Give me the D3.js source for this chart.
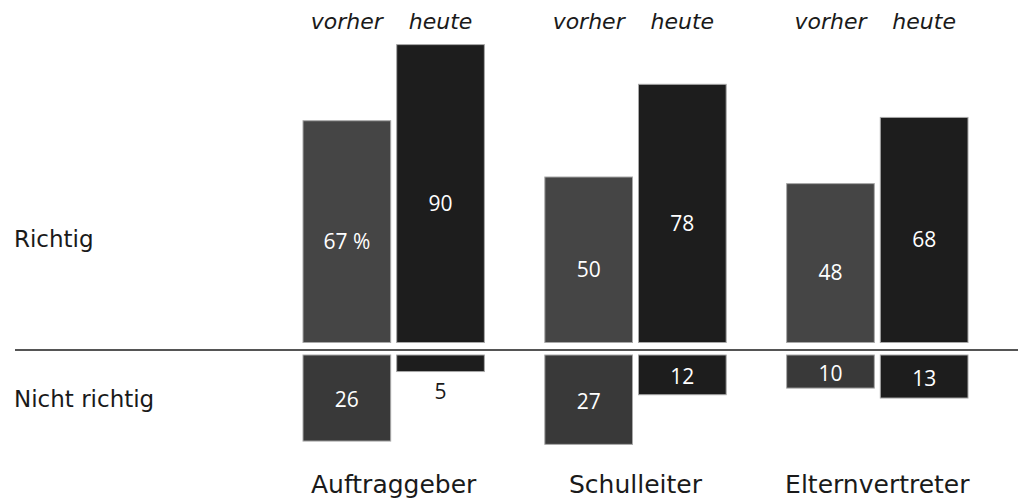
<!DOCTYPE html>
<html>
<head>
<meta charset="utf-8">
<script src="https://cdn.jsdelivr.net/npm/d3@7"></script>
<style>
  html, body { margin: 0; padding: 0; background: #fff; }
  svg { display: block; }
  .row-label { font-family: "DejaVu Sans", sans-serif; font-size: 23px; fill: #1a1a1a; }
  .cat-label { font-family: "DejaVu Sans", sans-serif; font-size: 25px; fill: #1a1a1a; }
  .series-label { font-family: "DejaVu Sans", sans-serif; font-size: 22px; font-style: italic; fill: #1a1a1a; }
  .val { font-family: "Open Sans", sans-serif; font-size: 21px; }
</style>
</head>
<body>
<svg id="chart" width="1018" height="498"></svg>
<script>
  // categories and series
  const categories = ['Auftraggeber', 'Schulleiter', 'Elternvertreter'];
  const seriesNames = ['vorher', 'heute'];
  // share "richtig" (above the line) and "nicht richtig" (below), in %
  const richtigVorher = [67, 50, 48];
  const richtigHeute = [90, 78, 68];
  const nichtVorher = [26, 27, 10];
  const nichtHeute = [5, 12, 13];
  const rowLabels = ['Richtig', 'Nicht richtig'];

  const W = 1018;
  const svg = d3.select('#chart');

  const x = d3.scaleBand().domain(categories).range([303, 968]).paddingInner(0.25).paddingOuter(0);
  const xs = d3.scaleBand().domain(seriesNames).range([0, x.bandwidth()]).paddingInner(0.064);
  const BASE = 350;
  const yUp = d3.scaleLinear().domain([0, 100]).range([BASE - 7.5, BASE - 7.5 - 331]);
  const yDown = d3.scaleLinear().domain([0, 100]).range([BASE + 5, BASE + 5 + 331]);

  const fillUp = { vorher: '#454545', heute: '#1d1d1d' };
  const fillDown = { vorher: '#393939', heute: '#1d1d1d' };

  const rows = [];
  categories.forEach((c, i) => {
    rows.push({ cat: c, s: 'vorher', up: richtigVorher[i], down: nichtVorher[i] });
    rows.push({ cat: c, s: 'heute', up: richtigHeute[i], down: nichtHeute[i] });
  });
  const cx = d => x(d.cat) + xs(d.s) + xs.bandwidth() / 2;

  // series labels above each bar
  svg.append('g').selectAll('text').data(rows).join('text')
    .attr('class', 'series-label')
    .attr('x', cx)
    .attr('y', 29)
    .attr('text-anchor', 'middle')
    .text(d => d.s);

  // "richtig" bars, above the line
  const up = svg.append('g');
  up.selectAll('rect').data(rows).join('rect')
    .attr('x', d => x(d.cat) + xs(d.s))
    .attr('y', d => yUp(d.up))
    .attr('width', xs.bandwidth())
    .attr('height', d => yUp(0) - yUp(d.up))
    .attr('fill', d => fillUp[d.s])
    .attr('stroke', '#a8a8a8').attr('stroke-width', 1);
  up.selectAll('text').data(rows).join('text')
    .attr('class', 'val')
    .attr('x', cx)
    .attr('y', d => (yUp(d.up) + yUp(0)) / 2 + 10)
    .attr('dy', '0.35em')
    .attr('text-anchor', 'middle')
    .attr('fill', '#fff')
    .text((d, i) => i === 0 ? d.up + ' %' : d.up);

  // "nicht richtig" bars, below the line
  const down = svg.append('g');
  const small = d => (yDown(d.down) - yDown(0)) < 25;
  down.selectAll('rect').data(rows).join('rect')
    .attr('x', d => x(d.cat) + xs(d.s))
    .attr('y', yDown(0))
    .attr('width', xs.bandwidth())
    .attr('height', d => yDown(d.down) - yDown(0))
    .attr('fill', d => fillDown[d.s])
    .attr('stroke', '#a8a8a8').attr('stroke-width', 1);
  down.selectAll('text').data(rows).join('text')
    .attr('class', 'val')
    .attr('x', cx)
    .attr('y', d => small(d) ? yDown(d.down) + 20 : (yDown(0) + yDown(d.down)) / 2 + 2)
    .attr('dy', '0.35em')
    .attr('text-anchor', 'middle')
    .attr('fill', d => small(d) ? '#1a1a1a' : '#fff')
    .text(d => d.down);

  // baseline
  svg.append('line')
    .attr('x1', 15).attr('x2', W)
    .attr('y1', BASE).attr('y2', BASE)
    .attr('stroke', '#555').attr('stroke-width', 2);

  // row labels
  svg.append('g').selectAll('text').data(rowLabels).join('text')
    .attr('class', 'row-label')
    .attr('x', 14)
    .attr('y', (d, i) => i === 0 ? 247 : 407)
    .text(d => d);

  // category labels
  svg.append('g').selectAll('text').data(categories).join('text')
    .attr('class', 'cat-label')
    .attr('x', d => x(d) + x.bandwidth() / 2)
    .attr('y', 493)
    .attr('text-anchor', 'middle')
    .text(d => d);
</script>
</body>
</html>
